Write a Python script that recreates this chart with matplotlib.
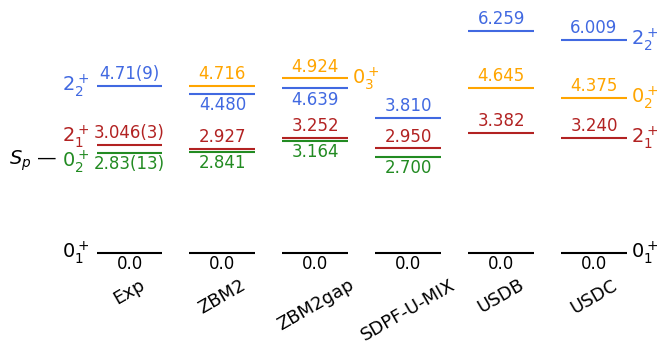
import matplotlib
matplotlib.use("Agg")
import matplotlib.pyplot as plt
import numpy as np

# level energies in MeV, NaN where a calculation gives no such state
models = ["Exp", "ZBM2", "ZBM2gap", "SDPF-U-MIX", "USDB", "USDC"]
e_01 = [0.0, 0.0, 0.0, 0.0, 0.0, 0.0]
e_02 = [2.83, 2.841, 3.164, 2.700, np.nan, np.nan]
e_21 = [3.046, 2.927, 3.252, 2.950, 3.382, 3.240]
e_22 = [4.71, 4.480, 4.639, 3.810, 6.259, 6.009]
e_03 = [np.nan, 4.716, 4.924, np.nan, 4.645, 4.375]

# printed values (experiment keeps its uncertainties)
t_01 = ["0.0"] * 6
t_02 = ["2.83(13)", "2.841", "3.164", "2.700", "", ""]
t_21 = ["3.046(3)", "2.927", "3.252", "2.950", "3.382", "3.240"]
t_22 = ["4.71(9)", "4.480", "4.639", "3.810", "6.259", "6.009"]
t_03 = ["", "4.716", "4.924", "", "4.645", "4.375"]

# put value below the line? (only where two levels crowd together)
below_22 = [False, True, True, False, False, False]

c_black = "black"
c_green = "forestgreen"
c_red = "firebrick"
c_blue = "royalblue"
c_orange = "orange"

half = 0.355

fig = plt.figure(figsize=(6.58, 3.43), dpi=100)
ax = fig.add_axes([0, 65 / 343, 1, 278 / 343])
ax.set_xlim(-1.394, 5.689)
ax.set_ylim(-0.705, 7.133)


def draw_levels(energies, texts, color, below):
    for i, (e, t) in enumerate(zip(energies, texts)):
        if np.isnan(e):
            continue
        ax.hlines(e, i - half, i + half, color=color, lw=1.5)
        if below[i]:
            ax.annotate(t, (i, e), xytext=(0, -1.5), textcoords="offset points",
                        ha="center", va="top", color=color, fontsize=12)
        else:
            ax.annotate(t, (i, e), xytext=(0, 2), textcoords="offset points",
                        ha="center", va="bottom", color=color, fontsize=12)


draw_levels(e_01, t_01, c_black, [True] * 6)
draw_levels(e_02, t_02, c_green, [True] * 6)
draw_levels(e_21, t_21, c_red, [False] * 6)
draw_levels(e_22, t_22, c_blue, below_22)
draw_levels(e_03, t_03, c_orange, [False] * 6)

# spin-parity labels on the left of the experimental levels
xl = -half - 0.08
ax.text(xl, e_22[0], r"$2_2^+$", color=c_blue, fontsize=14, ha="right", va="center")
ax.text(xl, 3.27, r"$2_1^+$", color=c_red, fontsize=14, ha="right", va="center")
ax.text(xl, 2.59, r"$0_2^+$", color=c_green, fontsize=14, ha="right", va="center")
ax.text(xl, e_01[0], r"$0_1^+$", color=c_black, fontsize=14, ha="right", va="center")
ax.text(-0.775, 2.59, r"$S_p$ —", color=c_black, fontsize=14, ha="right", va="center")

# labels on the right side
xr = 5 + half + 0.045
ax.text(2 + half + 0.045, e_03[2], r"$0_3^+$", color=c_orange, fontsize=14, ha="left", va="center")
ax.text(xr, e_22[5], r"$2_2^+$", color=c_blue, fontsize=14, ha="left", va="center")
ax.text(xr, e_03[5], r"$0_2^+$", color=c_orange, fontsize=14, ha="left", va="center")
ax.text(xr, e_21[5], r"$2_1^+$", color=c_red, fontsize=14, ha="left", va="center")
ax.text(xr, e_01[5], r"$0_1^+$", color=c_black, fontsize=14, ha="left", va="center")

ax.set_xticks(range(len(models)))
ax.set_xticklabels(models, rotation=30, fontsize=13)
ax.tick_params(axis="x", length=0, pad=-1.5)
ax.set_yticks([])
for s in ax.spines.values():
    s.set_visible(False)
ax.patch.set_visible(False)

fig.savefig("out.png", dpi=100)
